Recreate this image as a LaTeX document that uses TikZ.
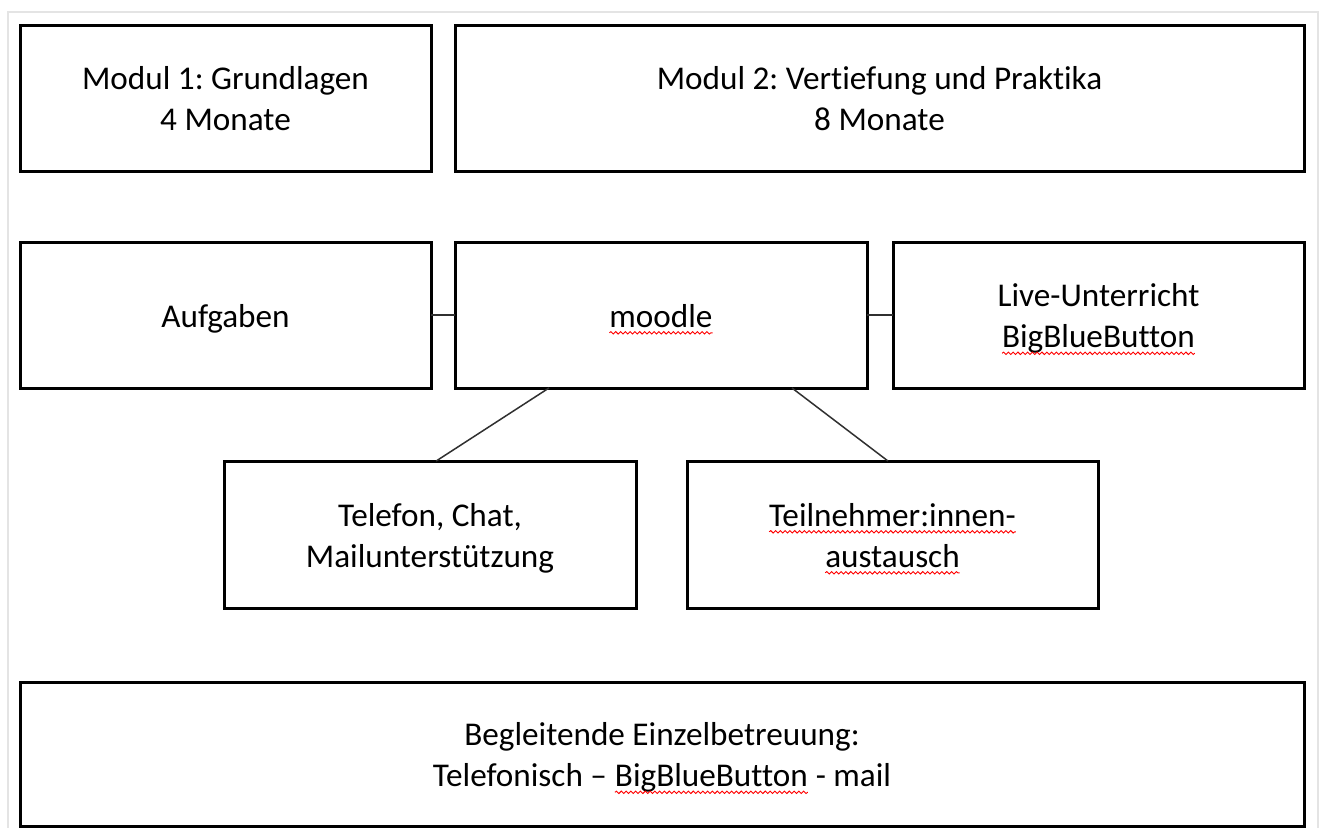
\documentclass[tikz,border=0pt]{standalone}
\usepackage{fontspec}
\setmainfont{Carlito}[Ligatures={NoCommon}]
\frenchspacing
\usetikzlibrary{calc,decorations.pathmorphing}
\definecolor{framegray}{HTML}{E4E4E4}
\definecolor{conncol}{HTML}{303030}
\newcommand\spellmark[1]{\tikz[baseline=(sw.base)]{\node[rectangle,inner sep=0pt,outer sep=0pt,draw=none,fill=none,minimum width=0pt,minimum height=0pt,anchor=base] (sw) at (0,0) {#1};\draw[red,line width=0.45pt,decorate,decoration={snake,amplitude=0.6pt,segment length=2.4pt}] ([yshift=-2.8pt]sw.base west) -- ([yshift=-2.8pt]sw.base east);}}
\newcommand\boxtext[1]{\raisebox{-2pt}[\height][\depth]{\begin{tabular}{@{}c@{}}#1\end{tabular}}}
\begin{document}
\begin{tikzpicture}[x=0.5pt,y=-0.5pt,
  box/.style={draw=black,line width=1.5pt,rectangle,inner sep=0pt,outer sep=0pt,
    font=\fontsize{16.6pt}{20.5pt}\selectfont,text=black},
  conn/.style={draw=conncol,line width=0.75pt}]
\useasboundingbox (0,0) rectangle (1319,827);
\fill[white] (0,0) rectangle (1319,827);
\draw[framegray,line width=1pt] (8,830) -- (8,12) -- (1318,12) -- (1318,830);

\node[box,minimum width=205.5pt,minimum height=73pt] (m1) at (225.5,98) {\boxtext{Modul 1: Grundlagen\\4 Monate}};
\node[box,minimum width=424.5pt,minimum height=73pt] (m2) at (879.5,98) {\boxtext{Modul 2: Vertiefung und Praktika\\8 Monate}};

\node[box,minimum width=205.5pt,minimum height=73pt] (aufg) at (225.5,315) {\boxtext{Aufgaben}};
\node[box,minimum width=206pt,minimum height=73pt] (moodle) at (661,315) {\boxtext{\spellmark{moodle}}};
\node[box,minimum width=205.5pt,minimum height=73pt] (live) at (1098.5,315) {\boxtext{Live-Unterricht\\\spellmark{BigBlueButton}}};

\node[box,minimum width=206pt,minimum height=73.5pt] (tel) at (430,534.5) {\boxtext{Telefon, Chat,\\Mailunterstützung}};
\node[box,minimum width=205.5pt,minimum height=73.5pt] (teil) at (892.5,534.5) {\boxtext{\spellmark{Teilnehmer:innen-}\\\spellmark{austausch}}};

\node[box,minimum width=642pt,minimum height=72pt] (begl) at (662,754) {\boxtext{Begleitende Einzelbetreuung:\\Telefonisch – \spellmark{BigBlueButton} - mail}};

\draw[conn] (aufg.east) -- (moodle.west);
\draw[conn] (moodle.east) -- (live.west);
\draw[conn] ($(moodle.south west)!0.228!(moodle.south east)$) -- ($(tel.north west)!0.515!(tel.north east)$);
\draw[conn] ($(moodle.south west)!0.818!(moodle.south east)$) -- ($(teil.north west)!0.489!(teil.north east)$);
\end{tikzpicture}
\end{document}
